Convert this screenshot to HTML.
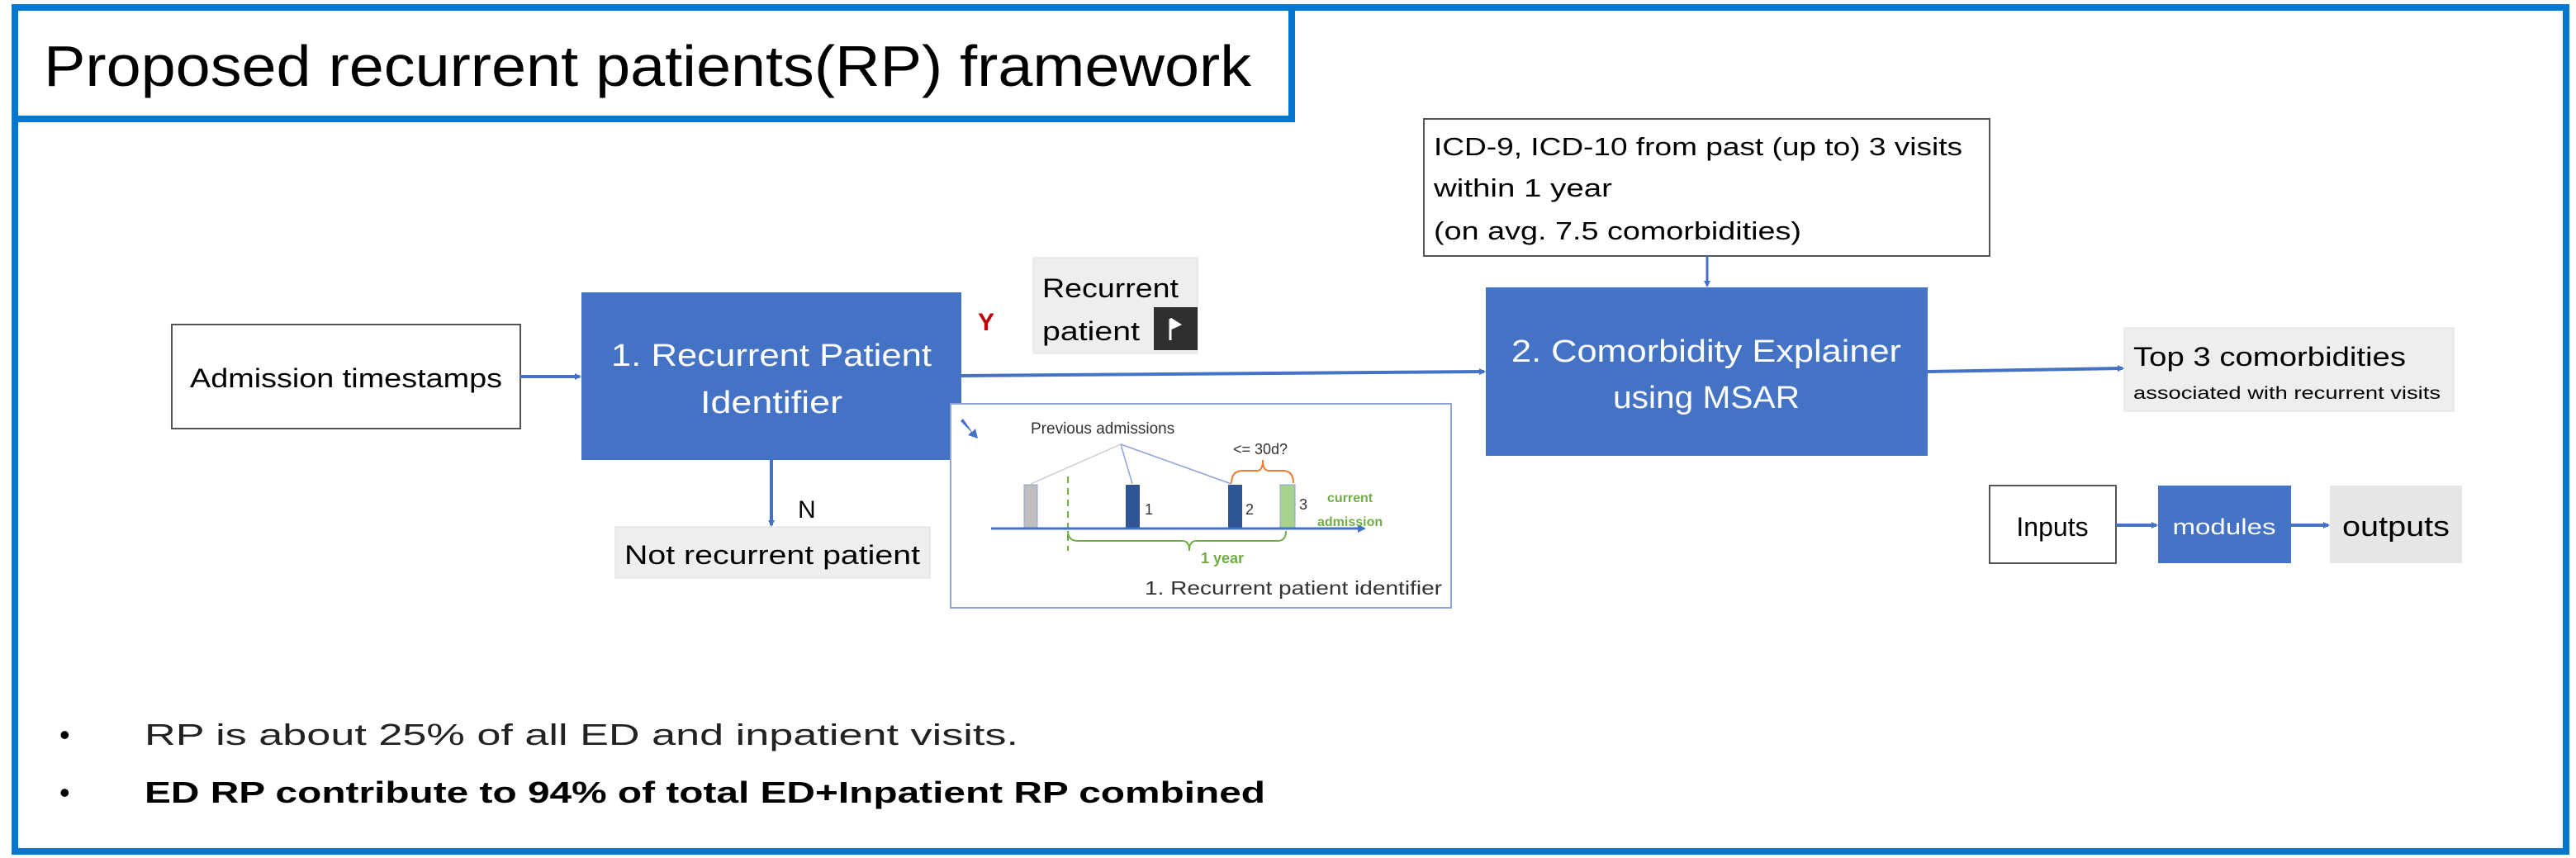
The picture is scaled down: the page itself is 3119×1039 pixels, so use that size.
<!DOCTYPE html>
<html><head><meta charset="utf-8"><style>
html,body{margin:0;padding:0;background:#fff;}
svg{display:block;}
text{font-family:"Liberation Sans",sans-serif;}
</style></head><body>
<svg width="3119" height="1039" viewBox="0 0 3119 1039" xmlns="http://www.w3.org/2000/svg">
<defs>
<marker id="ah" markerWidth="8" markerHeight="8" refX="6" refY="4" orient="auto" markerUnits="userSpaceOnUse"><path d="M0,0 L8,4 L0,8 z" fill="#4472C4"/></marker>
<marker id="ahs" markerWidth="10" markerHeight="10" refX="8" refY="5" orient="auto" markerUnits="userSpaceOnUse"><path d="M0,0 L10,5 L0,10 z" fill="#4472C4"/></marker>
</defs>
<!-- outer frame -->
<rect x="18" y="9" width="3089" height="1022" fill="none" stroke="#0277CF" stroke-width="8"/>
<!-- title box -->
<rect x="18" y="9" width="1546" height="135" fill="#fff" stroke="#0277CF" stroke-width="8"/>
<text x="53" y="104" font-size="70" textLength="1462" lengthAdjust="spacingAndGlyphs">Proposed recurrent patients(RP) framework</text>

<!-- admission timestamps -->
<rect x="208" y="393" width="422" height="126" fill="#fff" stroke="#555" stroke-width="2"/>
<text x="419" y="469" font-size="32" text-anchor="middle" textLength="378" lengthAdjust="spacingAndGlyphs">Admission timestamps</text>
<line x1="630" y1="456" x2="702" y2="456" stroke="#4472C4" stroke-width="4" marker-end="url(#ah)"/>

<!-- box 1 -->
<rect x="704" y="354" width="460" height="203" fill="#4472C4"/>
<text x="934" y="443" font-size="38" fill="#fff" text-anchor="middle" textLength="388" lengthAdjust="spacingAndGlyphs">1.  Recurrent Patient</text>
<text x="934" y="500" font-size="38" fill="#fff" text-anchor="middle" textLength="172" lengthAdjust="spacingAndGlyphs">Identifier</text>

<text x="1184" y="400" font-size="30" font-weight="bold" fill="#C00000">Y</text>

<!-- recurrent patient -->
<rect x="1251" y="312" width="199" height="116" fill="#EEEEEE" stroke="#ddd" stroke-width="1"/>
<text x="1262" y="360" font-size="32" textLength="165" lengthAdjust="spacingAndGlyphs">Recurrent</text>
<text x="1262" y="412" font-size="32" textLength="118" lengthAdjust="spacingAndGlyphs">patient</text>
<rect x="1397" y="372" width="53" height="52" fill="#2f2f2f"/>
<path d="M1417,386 L1417,412 M1417,386 L1428,393 L1417,398" stroke="#fff" stroke-width="3" fill="#fff"/>

<!-- line box1 -> box2 -->
<line x1="1164" y1="455" x2="1797" y2="450" stroke="#4472C4" stroke-width="4" marker-end="url(#ah)"/>

<!-- N -->
<line x1="934" y1="557" x2="934" y2="636" stroke="#4472C4" stroke-width="4" marker-end="url(#ah)"/>
<text x="966" y="627" font-size="30">N</text>
<rect x="745" y="638" width="381" height="62" fill="#EEEEEE" stroke="#ddd" stroke-width="1"/>
<text x="935" y="683" font-size="32" text-anchor="middle" textLength="358" lengthAdjust="spacingAndGlyphs">Not recurrent patient</text>

<!-- inset -->
<rect x="1151" y="489" width="606" height="247" fill="#fff" stroke="#8FA3D6" stroke-width="2"/>
<path d="M1163,510 L1176,523 L1172,527 L1184,531 L1181,519 L1177,523 L1166,507 z" fill="#4472C4"/>
<text x="1248" y="525" font-size="19" fill="#333">Previous admissions</text>
<text x="1493" y="550" font-size="18" fill="#333">&lt;= 30d?</text>
<line x1="1357" y1="538" x2="1248" y2="586" stroke="#ccc" stroke-width="1.5"/>
<line x1="1357" y1="538" x2="1371" y2="586" stroke="#8FA3D6" stroke-width="1.5"/>
<line x1="1357" y1="538" x2="1491" y2="586" stroke="#8FA3D6" stroke-width="1.5"/>
<rect x="1240" y="587" width="16" height="52" fill="#BFBFBF" stroke="#8FA3D6" stroke-width="1"/>
<line x1="1293" y1="577" x2="1293" y2="667" stroke="#70AD47" stroke-width="2" stroke-dasharray="8,6"/>
<rect x="1363" y="587" width="17" height="52" fill="#2F5597"/>
<text x="1386" y="623" font-size="18" fill="#333">1</text>
<rect x="1487" y="587" width="17" height="52" fill="#2F5597"/>
<text x="1508" y="623" font-size="18" fill="#333">2</text>
<rect x="1550" y="587" width="18" height="52" fill="#A9D18E" stroke="#8FA3D6" stroke-width="1"/>
<text x="1573" y="617" font-size="18" fill="#333">3</text>
<line x1="1200" y1="640" x2="1652" y2="640" stroke="#4472C4" stroke-width="3" marker-end="url(#ahs)"/>
<text x="1607" y="608" font-size="16" font-weight="bold" fill="#70AD47">current</text>
<text x="1595" y="637" font-size="16" font-weight="bold" fill="#70AD47">admission</text>
<path d="M1491,585 Q1491,570 1505,570 L1522,570 Q1529,570 1529,557 Q1529,570 1536,570 L1553,570 Q1566,570 1566,585" fill="none" stroke="#ED7D31" stroke-width="2"/>
<path d="M1293,643 Q1293,655 1305,655 L1432,655 Q1440,655 1440,667 Q1440,655 1448,655 L1547,655 Q1557,655 1557,643" fill="none" stroke="#70AD47" stroke-width="2"/>
<text x="1454" y="682" font-size="18" font-weight="bold" fill="#70AD47">1 year</text>
<text x="1386" y="720" font-size="23" fill="#333" textLength="360" lengthAdjust="spacingAndGlyphs">1. Recurrent patient identifier</text>

<!-- ICD box -->
<rect x="1724" y="144" width="685" height="166" fill="#fff" stroke="#555" stroke-width="2"/>
<text x="1736" y="188" font-size="31" textLength="640" lengthAdjust="spacingAndGlyphs">ICD-9, ICD-10 from past (up to) 3 visits</text>
<text x="1736" y="238" font-size="31" textLength="216" lengthAdjust="spacingAndGlyphs">within 1 year</text>
<text x="1736" y="290" font-size="31" textLength="445" lengthAdjust="spacingAndGlyphs">(on avg. 7.5 comorbidities)</text>
<line x1="2067" y1="310" x2="2067" y2="346" stroke="#4472C4" stroke-width="3" marker-end="url(#ah)"/>

<!-- box 2 -->
<rect x="1799" y="348" width="535" height="204" fill="#4472C4"/>
<text x="2066" y="438" font-size="38" fill="#fff" text-anchor="middle" textLength="472" lengthAdjust="spacingAndGlyphs">2. Comorbidity Explainer</text>
<text x="2066" y="494" font-size="38" fill="#fff" text-anchor="middle" textLength="226" lengthAdjust="spacingAndGlyphs">using MSAR</text>
<line x1="2334" y1="450" x2="2570" y2="446" stroke="#4472C4" stroke-width="4" marker-end="url(#ah)"/>

<!-- top 3 -->
<rect x="2572" y="397" width="399" height="101" fill="#EEEEEE" stroke="#ddd" stroke-width="1"/>
<text x="2583" y="443" font-size="32" textLength="330" lengthAdjust="spacingAndGlyphs">Top 3 comorbidities</text>
<text x="2583" y="483" font-size="21" textLength="372" lengthAdjust="spacingAndGlyphs">associated with recurrent visits</text>

<!-- legend -->
<rect x="2409" y="588" width="153" height="94" fill="#fff" stroke="#555" stroke-width="2"/>
<text x="2485" y="649" font-size="32" text-anchor="middle">Inputs</text>
<line x1="2562" y1="636" x2="2611" y2="636" stroke="#4472C4" stroke-width="4" marker-end="url(#ah)"/>
<rect x="2613" y="588" width="161" height="94" fill="#4472C4"/>
<text x="2693" y="647" font-size="27" fill="#fff" text-anchor="middle" textLength="125" lengthAdjust="spacingAndGlyphs">modules</text>
<line x1="2774" y1="636" x2="2819" y2="636" stroke="#4472C4" stroke-width="4" marker-end="url(#ah)"/>
<rect x="2821" y="588" width="160" height="94" fill="#E7E6E6"/>
<text x="2901" y="649" font-size="34" text-anchor="middle" textLength="130" lengthAdjust="spacingAndGlyphs">outputs</text>

<!-- bullets -->
<text x="72" y="902" font-size="36">•</text>
<text x="175" y="902" font-size="36" fill="#222" textLength="1058" lengthAdjust="spacingAndGlyphs">RP is about 25% of all ED and inpatient visits.</text>
<text x="72" y="972" font-size="36">•</text>
<text x="175" y="972" font-size="36" font-weight="bold" textLength="1357" lengthAdjust="spacingAndGlyphs">ED RP contribute to 94% of total ED+Inpatient RP combined</text>
</svg>
</body></html>
